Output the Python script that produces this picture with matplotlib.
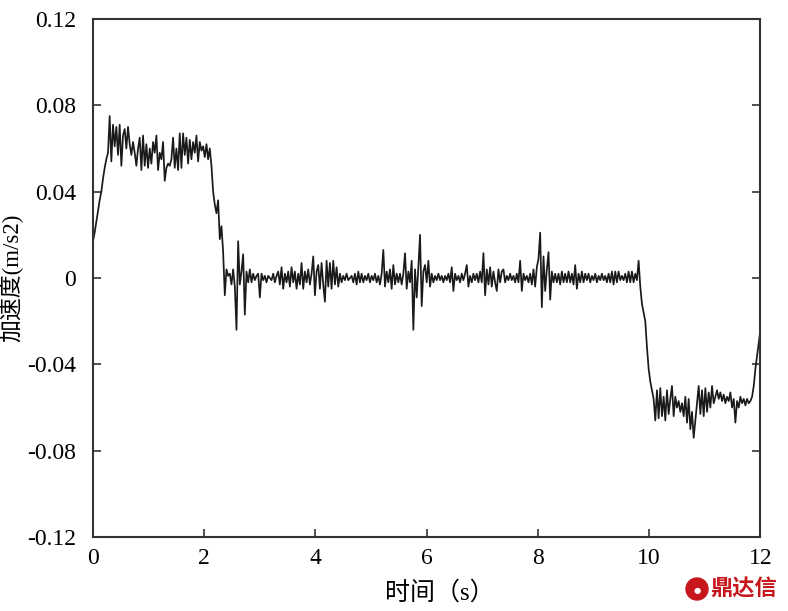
import numpy as np
import matplotlib.pyplot as plt
from matplotlib.patches import Ellipse

plt.rcParams['font.family'] = ['Liberation Serif', 'Noto Sans CJK SC', 'DejaVu Sans']

# acceleration samples, 0.03 s apart
rise_plateau = [0.017, 0.021, 0.026, 0.031, 0.036, 0.040, 0.046, 0.051, 0.055, 0.058,
                0.075, 0.054, 0.071, 0.061, 0.070, 0.057, 0.071, 0.052, 0.066, 0.069,
                0.060, 0.070, 0.062, 0.057, 0.063, 0.058, 0.052, 0.060, 0.065, 0.050,
                0.066, 0.052, 0.062, 0.051, 0.060, 0.053, 0.063, 0.058, 0.066, 0.050,
                0.058, 0.055, 0.063, 0.045, 0.051, 0.053, 0.052, 0.055, 0.065, 0.051,
                0.060, 0.050, 0.067, 0.051, 0.067, 0.057, 0.065, 0.053, 0.064, 0.055,
                0.063, 0.058, 0.066, 0.054, 0.063, 0.059, 0.061, 0.056, 0.062, 0.055]
first_drop = [0.060, 0.052, 0.040, 0.034, 0.030, 0.036, 0.018, 0.024, 0.012, -0.008,
              0.004, 0.001]
zero_phase_a = [0.002, -0.003, 0.004, -0.004, -0.024, 0.017, -0.003, 0.003, 0.011, -0.017,
                0.003, -0.002, 0.004, -0.002, 0.002, -0.001, 0.001, 0.002, -0.009, 0.002,
                -0.001, 0.001, -0.002, 0.001, 0.000, -0.001, 0.002, -0.002, 0.001, 0.003,
                -0.003, 0.005, -0.005, 0.002, -0.002, 0.003, -0.004, 0.005, -0.002, 0.003,
                -0.005, 0.002, -0.003, 0.007, -0.005, 0.003, -0.002, 0.004, -0.003, 0.002,
                0.010, -0.008, 0.003, 0.006, -0.005, 0.007, -0.003, -0.011, 0.008, -0.004,
                0.007, -0.005, 0.008, -0.003, 0.005, -0.004, 0.002, -0.002, 0.001, -0.001,
                0.002, -0.001, 0.000, 0.001, -0.002, 0.002, -0.003, 0.003, -0.002, 0.002]
zero_phase_b = [-0.002, 0.001, -0.001, 0.002, -0.002, 0.001, -0.001, 0.002, -0.002, 0.001,
                -0.003, 0.002, 0.013, -0.004, 0.003, -0.002, 0.004, -0.005, 0.006, -0.003,
                0.002, -0.002, 0.002, -0.003, 0.002, 0.0115, -0.005, 0.003, -0.002, 0.008,
                -0.024, 0.004, -0.009, 0.005, 0.020, -0.013, 0.003, 0.006, -0.002, 0.008,
                -0.004, 0.002, -0.002, 0.001, -0.001, 0.002, -0.001, 0.001, -0.002, 0.001,
                -0.001, 0.002, -0.002, 0.005, -0.006, 0.002, -0.001, 0.001, -0.002, 0.002,
                -0.001, 0.002, 0.006, -0.004, 0.001, -0.002, 0.002, -0.001, 0.002, -0.002,
                0.003, -0.002, 0.0115, -0.008, 0.004, -0.003, 0.005, -0.004, 0.003, -0.002]
zero_phase_c = [-0.006, 0.004, -0.002, 0.003, 0.004, -0.002, 0.001, -0.001, 0.002, -0.001,
                0.001, -0.002, 0.002, -0.002, 0.008, -0.006, 0.002, -0.001, 0.001, -0.002,
                0.002, -0.003, 0.004, -0.004, 0.005, 0.009, 0.021, -0.0135, 0.010, -0.006,
                0.004, 0.012, -0.010, 0.003, -0.002, 0.002, -0.002, 0.002, -0.003, 0.003,
                -0.002, 0.002, -0.002, 0.003, -0.002, 0.002, -0.003, 0.006, -0.005, 0.002,
                -0.002, 0.003, -0.002, 0.002, -0.001, 0.002, -0.002, 0.001, -0.001, 0.002,
                -0.002, 0.001, -0.001, 0.002, -0.001, 0.001, -0.002, 0.002, -0.002, 0.003,
                -0.003, 0.003, -0.002, 0.003, -0.001, 0.001, -0.001, 0.002, -0.002, 0.003,
                -0.002, 0.003, -0.002, 0.002, -0.001, 0.008]
second_drop = [-0.004, -0.012, -0.016, -0.020, -0.032, -0.042, -0.048, -0.052, -0.056]
negative_plateau = [-0.066, -0.052, -0.065, -0.051, -0.064, -0.055, -0.066, -0.052, -0.063, -0.056,
                    -0.050, -0.064, -0.055, -0.060, -0.057, -0.062, -0.058, -0.064, -0.055, -0.067,
                    -0.056, -0.070, -0.062, -0.074, -0.066, -0.058, -0.050, -0.063, -0.052, -0.064,
                    -0.051, -0.062, -0.053, -0.060, -0.050, -0.058, -0.055, -0.052, -0.056, -0.053,
                    -0.057, -0.054, -0.058, -0.055, -0.057, -0.053, -0.060, -0.056, -0.067, -0.057,
                    -0.060, -0.055, -0.058, -0.056, -0.059, -0.056, -0.058, -0.057, -0.055]
recovery = [-0.050, -0.042, -0.036, -0.030, -0.024]

accel = (rise_plateau + first_drop + zero_phase_a + zero_phase_b + zero_phase_c
         + second_drop + negative_plateau + recovery)
time = np.linspace(0, 12, len(accel))

x_ticks = [0, 2, 4, 6, 8, 10, 12]
y_ticks = [-0.12, -0.08, -0.04, 0, 0.04, 0.08, 0.12]
y_tick_labels = ['-0.12', '-0.08', '-0.04', '0', '0.04', '0.08', '0.12']

fig = plt.figure(figsize=(7.88, 6.11), dpi=100)
ax = fig.add_axes([0.118, 0.121, 0.847, 0.848])
ax.plot(time, accel, color='#1a1a1a', lw=1.25)

ax.set_xlim(0, 12)
ax.set_ylim(-0.12, 0.12)
ax.set_xticks(x_ticks)
ax.set_xticklabels([str(v) for v in x_ticks])
ax.set_yticks(y_ticks)
ax.set_yticklabels(y_tick_labels)
ax.tick_params(direction='in', length=6, width=1.2, color='#333333',
               labelsize=17, right=True, top=False)
ax.tick_params(axis='y', pad=12)
ax.tick_params(axis='x', pad=8)
for sp in ax.spines.values():
    sp.set_linewidth(1.5)
    sp.set_color('#333333')

ax.set_xlabel('时间（s）', fontsize=18)
ax.set_ylabel('加速度(m/s2)', fontsize=16.5)
ax.xaxis.set_label_coords(0.52, -0.085)
ax.yaxis.set_label_coords(-0.104, 0.5)

# watermark
fig.add_artist(Ellipse((697 / 788, 1 - 589 / 611), 22 / 788, 22 / 611,
                       transform=fig.transFigure, color='#c8161d'))
fig.text(697 / 788, 1 - 590 / 611, '●', color='white', fontsize=6,
         ha='center', va='center', family=['DejaVu Sans'])
fig.text(744 / 788, 1 - 589 / 611, '鼎达信', color='#c8161d', fontsize=16,
         fontweight='bold', ha='center', va='center',
         family=['Noto Sans CJK SC'])

fig.savefig('out.png', dpi=100)
